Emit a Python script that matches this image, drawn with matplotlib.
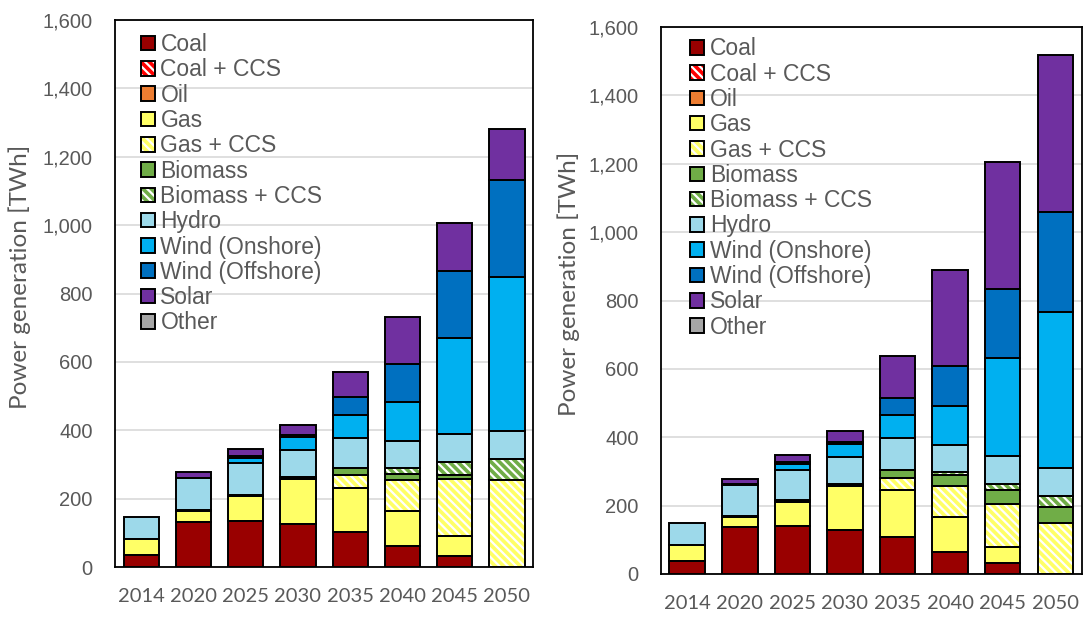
import numpy as np
import matplotlib
matplotlib.use("Agg")
import matplotlib.pyplot as plt
from matplotlib.patches import Patch
from matplotlib.legend_handler import HandlerTuple
from matplotlib.ticker import FuncFormatter

# -----------------------------------
# Data (TWh)
# -----------------------------------

years = ["2014", "2020", "2025", "2030", "2035", "2040", "2045", "2050"]

series_names = [
    "Coal", "Coal + CCS", "Oil", "Gas", "Gas + CCS", "Biomass",
    "Biomass + CCS", "Hydro", "Wind (Onshore)", "Wind (Offshore)",
    "Solar", "Other",
]

# left scenario
left_coal = [34, 133, 136, 125, 103, 61, 31, 0]
left_coal_ccs = [0, 0, 0, 0, 0, 0, 0, 0]
left_oil = [0, 0, 0, 0, 0, 0, 0, 0]
left_gas = [48, 30, 72, 133, 129, 103, 59, 0]
left_gas_ccs = [0, 0, 0, 0, 37, 90, 168, 254]
left_biomass = [0, 3, 4, 5, 20, 18, 10, 0]
left_biomass_ccs = [0, 0, 0, 0, 0, 18, 39, 63]
left_hydro = [63, 93, 92, 79, 88, 80, 82, 81]
left_wind_on = [0, 2, 15, 39, 67, 112, 282, 449]
left_wind_off = [0, 0, 5, 6, 54, 111, 195, 284]
left_solar = [0, 16, 22, 27, 72, 139, 140, 151]
left_other = [0, 0, 0, 0, 0, 0, 0, 0]

# right scenario
right_coal = [38, 138, 140, 129, 109, 65, 32, 0]
right_coal_ccs = [0, 0, 0, 0, 0, 0, 0, 0]
right_oil = [0, 0, 0, 0, 0, 0, 0, 0]
right_gas = [46, 29, 71, 129, 137, 103, 47, 0]
right_gas_ccs = [0, 0, 0, 0, 36, 88, 126, 150]
right_biomass = [0, 3, 5, 6, 23, 33, 41, 47]
right_biomass_ccs = [0, 0, 0, 0, 0, 10, 16, 30]
right_hydro = [64, 90, 88, 79, 94, 79, 83, 82]
right_wind_on = [0, 2, 18, 37, 65, 114, 288, 458]
right_wind_off = [0, 0, 5, 7, 51, 115, 202, 291]
right_solar = [0, 16, 22, 30, 124, 283, 369, 459]
right_other = [0, 0, 0, 0, 0, 0, 0, 0]

left_data = [left_coal, left_coal_ccs, left_oil, left_gas, left_gas_ccs,
             left_biomass, left_biomass_ccs, left_hydro, left_wind_on,
             left_wind_off, left_solar, left_other]
right_data = [right_coal, right_coal_ccs, right_oil, right_gas, right_gas_ccs,
              right_biomass, right_biomass_ccs, right_hydro, right_wind_on,
              right_wind_off, right_solar, right_other]

# -----------------------------------
# Styles
# -----------------------------------

colors = ["#990000", "#FF0000", "#ED7D31", "#FFFF66", "#FFFF66", "#70AD47",
          "#70AD47", "#9DD9EA", "#00B0F0", "#0070C0", "#7030A0", "#A6A6A6"]
hatches = [None, "\\\\\\\\", None, None, "\\\\\\\\", None,
           "\\\\\\\\", None, None, None, None, None]

text_grey = "#595959"
edge_width = 1.4
bar_width = 0.675

plt.rcParams["font.family"] = ["Liberation Sans", "DejaVu Sans"]
plt.rcParams["hatch.linewidth"] = 1.6


def draw_panel(ax, data):
    x = np.arange(len(years))
    bottom = np.zeros(len(years))
    for values, color, hatch in zip(data, colors, hatches):
        values = np.array(values, dtype=float)
        keep = values > 0
        if keep.any():
            ax.bar(x[keep], values[keep], bar_width, bottom=bottom[keep],
                   color=color, linewidth=0, zorder=3)
            if hatch:
                ax.bar(x[keep], values[keep], bar_width, bottom=bottom[keep],
                       facecolor="none", edgecolor="white", hatch=hatch,
                       linewidth=0, zorder=4)
            ax.bar(x[keep], values[keep], bar_width, bottom=bottom[keep],
                   fill=False, edgecolor="black", linewidth=edge_width,
                   zorder=5)
        bottom += values

    ax.set_xlim(-0.5, len(years) - 0.5)
    ax.set_ylim(0, 1600)
    ax.set_yticks(np.arange(0, 1601, 200))
    ax.yaxis.set_major_formatter(FuncFormatter(lambda v, p: f"{int(v):,}"))
    ax.set_xticks(x)
    ax.set_xticklabels(years, family="Lato", fontsize=14.5)
    ax.tick_params(axis="y", length=0, pad=16, labelsize=14.5,
                   labelcolor=text_grey)
    ax.tick_params(axis="x", length=0, pad=15, labelcolor=text_grey)
    ax.grid(axis="y", color="#D9D9D9", linewidth=1.2, zorder=0)
    ax.set_axisbelow(True)
    for spine in ax.spines.values():
        spine.set_color("black")
        spine.set_linewidth(1.3)
    ax.set_ylabel("Power generation [TWh]", family="Lato", fontsize=17.5,
                  color=text_grey)


def legend_handles():
    handles = []
    for color, hatch in zip(colors, hatches):
        face = Patch(facecolor=color, edgecolor="white", hatch=hatch,
                     linewidth=0)
        outline = Patch(fill=False, edgecolor="black", linewidth=edge_width)
        handles.append((face, outline))
    return handles


# -----------------------------------
# Figure
# -----------------------------------

fig = plt.figure(figsize=(10.83, 6.17), dpi=100)

ax_left = fig.add_axes([0.1062, 0.0810, 0.3860, 0.8865])
ax_right = fig.add_axes([0.6103, 0.0697, 0.3884, 0.8865])

draw_panel(ax_left, left_data)
draw_panel(ax_right, right_data)

ax_left.yaxis.set_label_coords(-0.2, 0.53)
ax_right.yaxis.set_label_coords(-0.192, 0.53)

for ax, anchor in [(ax_left, (0.062, 0.976)), (ax_right, (0.07, 0.981))]:
    leg = ax.legend(legend_handles(), series_names,
                    handler_map={tuple: HandlerTuple(ndivide=1)},
                    loc="upper left", bbox_to_anchor=anchor,
                    frameon=False, fontsize=16.5, labelcolor=text_grey,
                    borderpad=0, borderaxespad=0, labelspacing=0.1,
                    handlelength=0.6, handleheight=0.6,
                    handletextpad=0.25)
    leg.set_zorder(2)

plt.savefig("out.png", dpi=100)
